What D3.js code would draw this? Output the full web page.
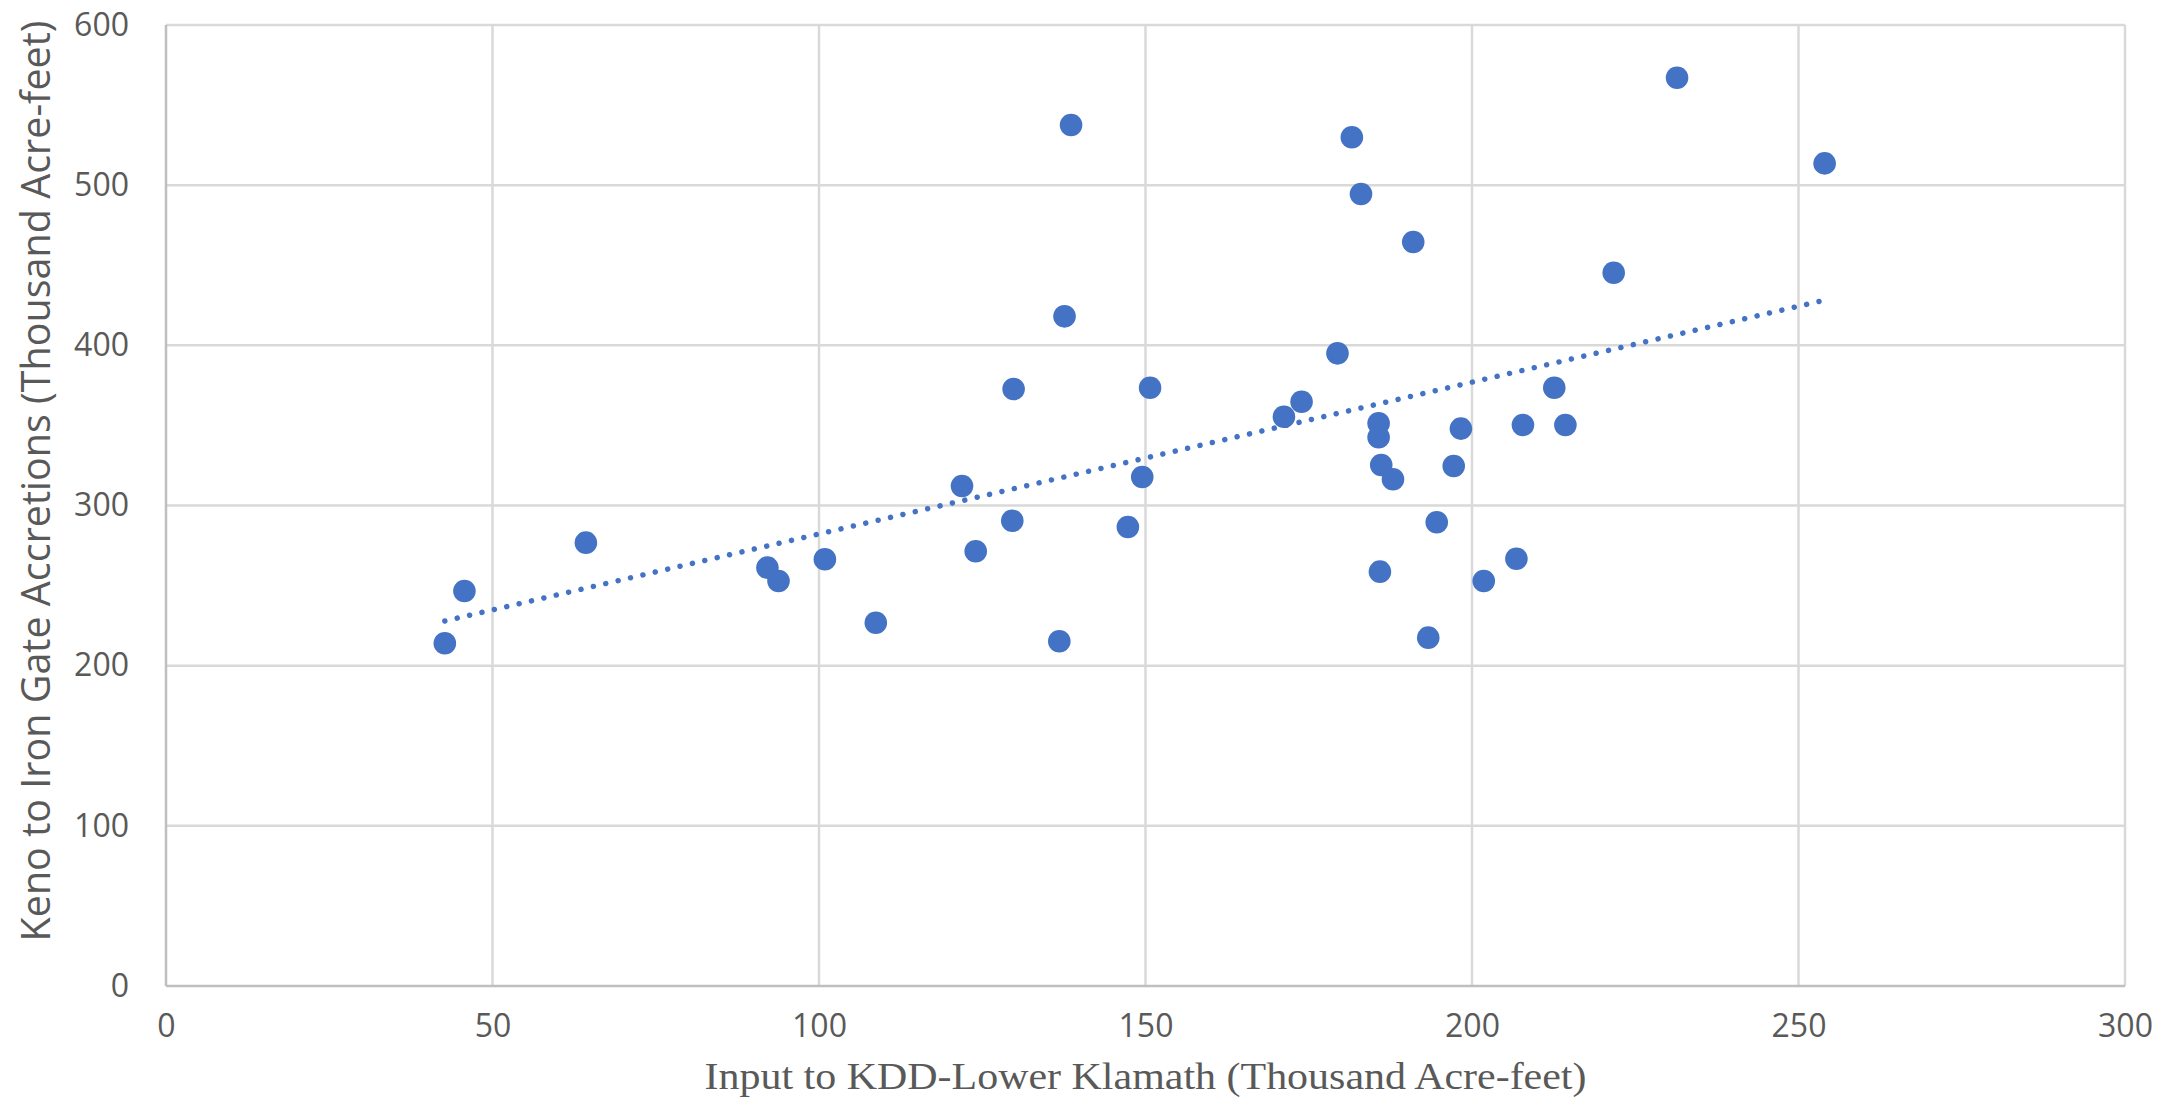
<!DOCTYPE html>
<html>
<head>
<meta charset="utf-8">
<script src="https://cdn.jsdelivr.net/npm/d3@7"></script>
<style>
  html, body { margin: 0; padding: 0; background: #ffffff; }
  svg { display: block; }
</style>
</head>
<body>
<svg id="chart" width="2178" height="1105"></svg>
<script>
// ---- data ----
const inputKDD = [42.7,45.7,64.3,92.1,93.8,100.9,108.7,121.9,124.0,129.8,
                  129.6,136.8,137.6,138.6,147.3,149.5,150.7,171.2,173.9,179.4,
                  181.6,183.0,185.7,185.7,186.1,185.9,187.9,191.0,193.3,194.6,
                  197.2,198.3,201.8,206.8,207.8,212.6,214.3,221.7,231.4,254.0];
const accretions = [214.0,246.6,276.8,261.2,252.9,266.4,226.8,312.2,271.4,372.7,
                    290.5,215.2,418.1,537.6,286.6,317.8,373.5,355.4,364.8,395.0,
                    529.9,494.5,351.3,342.6,325.3,258.7,316.4,464.5,217.5,289.5,
                    324.7,348.0,252.9,266.8,350.3,373.5,350.3,445.3,567.1,513.6];
const trendX = [42.7, 253.9];
const trendY = [227.9, 428.1];
const xTicks = [0, 50, 100, 150, 200, 250, 300];
const yTicks = [0, 100, 200, 300, 400, 500, 600];
const xTitle = "Input to KDD-Lower Klamath (Thousand Acre-feet)";
const yTitle = "Keno to Iron Gate Accretions (Thousand Acre-feet)";

// ---- layout ----
const W = 2178, H = 1105;
const m = { left: 166, top: 25, right: 53, bottom: 119 };
const svg = d3.select("#chart");

const x = d3.scaleLinear().domain([0, 300]).range([m.left, W - m.right]);
const y = d3.scaleLinear().domain([0, 600]).range([H - m.bottom, m.top]);

const grid = svg.append("g");
grid.selectAll("line.v").data(xTicks.filter(d => d !== 0)).join("line")
  .attr("x1", d => x(d)).attr("x2", d => x(d))
  .attr("y1", y(0)).attr("y2", y(600))
  .attr("stroke", "#D9D9D9").attr("stroke-width", 2.5);
grid.selectAll("line.h").data(yTicks.filter(d => d !== 0)).join("line")
  .attr("x1", x(0)).attr("x2", x(300))
  .attr("y1", d => y(d)).attr("y2", d => y(d))
  .attr("stroke", "#D9D9D9").attr("stroke-width", 2.5);

// axis lines
svg.append("line").attr("x1", x(0)).attr("x2", x(300)).attr("y1", y(0)).attr("y2", y(0))
  .attr("stroke", "#BFBFBF").attr("stroke-width", 2.5);
svg.append("line").attr("x1", x(0)).attr("x2", x(0)).attr("y1", y(0)).attr("y2", y(600))
  .attr("stroke", "#BFBFBF").attr("stroke-width", 2.5);

// tick labels via d3 axes
const xAxis = svg.append("g").attr("transform", `translate(0,${y(0)})`)
  .call(d3.axisBottom(x).tickValues(xTicks).tickSize(0).tickPadding(28).tickFormat(d3.format("d")));
const yAxis = svg.append("g").attr("transform", `translate(${x(0)},0)`)
  .call(d3.axisLeft(y).tickValues(yTicks).tickSize(0).tickPadding(37).tickFormat(d3.format("d")));
[xAxis, yAxis].forEach(a => {
  a.select(".domain").remove();
  a.selectAll("text").attr("fill", "#595959")
    .style("font-family", "'Open Sans', sans-serif").style("font-size", "32px");
});

// points
const pts = inputKDD.map((v, i) => ({ x: v, y: accretions[i] }));
svg.append("g").selectAll("circle").data(pts).join("circle")
  .attr("cx", d => x(d.x)).attr("cy", d => y(d.y)).attr("r", 11.3)
  .attr("fill", "#4472C4");

// dotted linear trendline
svg.append("line")
  .attr("x1", x(trendX[0])).attr("y1", y(trendY[0]))
  .attr("x2", x(trendX[1])).attr("y2", y(trendY[1]))
  .attr("stroke", "#4472C4").attr("stroke-width", 5.5)
  .attr("stroke-linecap", "round").attr("stroke-dasharray", "0.01 12.7");

// axis titles
svg.append("text")
  .attr("x", (x(0) + x(300)) / 2).attr("y", 1089)
  .attr("text-anchor", "middle").attr("fill", "#595959")
  .attr("textLength", 882).attr("lengthAdjust", "spacingAndGlyphs")
  .style("font-family", "'Liberation Serif', 'Times New Roman', serif").style("font-size", "37px")
  .text(xTitle);

svg.append("text")
  .attr("transform", "translate(50,481) rotate(-90)")
  .attr("text-anchor", "middle").attr("fill", "#595959")
  .style("font-family", "'Open Sans', sans-serif").style("font-size", "39.5px")
  .text(yTitle);
</script>
</body>
</html>
